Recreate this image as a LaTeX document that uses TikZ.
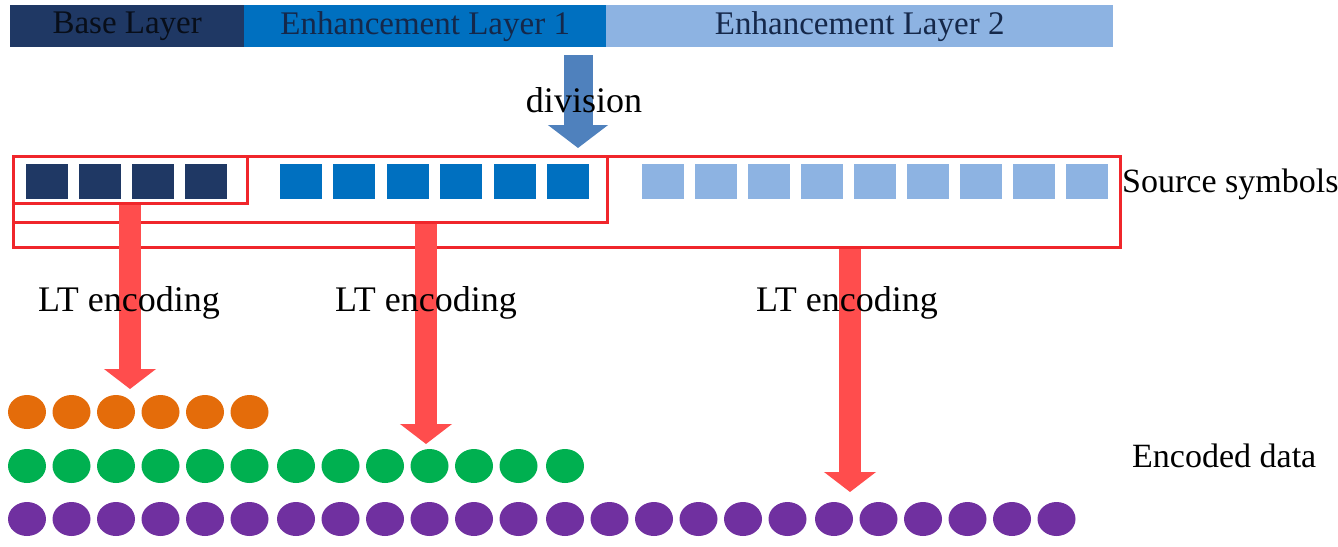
\documentclass[tikz,border=0pt]{standalone}
\usepackage{fontspec}
\setmainfont{Liberation Serif}
\usetikzlibrary{arrows.meta,shapes.geometric}
\definecolor{baseblue}{HTML}{1F3864}
\definecolor{midblue}{HTML}{0070C0}
\definecolor{lightblue}{HTML}{8DB3E2}
\definecolor{inkblue}{HTML}{15284A}
\definecolor{divblue}{HTML}{4F81BD}
\definecolor{boxred}{HTML}{F0262B}
\definecolor{arrowred}{HTML}{FF4D4D}
\definecolor{dotorange}{HTML}{E46C0A}
\definecolor{dotgreen}{HTML}{00B050}
\definecolor{dotpurple}{HTML}{7030A0}

\begin{document}
\begin{tikzpicture}[
		x=1pt, y=-1pt,
		layerbar/.style={minimum height=42pt,inner sep=0pt,anchor=north west,text=inkblue,font=\fontsize{33}{36}\selectfont},
		srcsym/.style={minimum width=42pt,minimum height=35pt,inner sep=0pt},
		packet/.style={ellipse,minimum width=38pt,minimum height=34pt,inner sep=0pt},
		redframe/.style={draw=boxred,line width=2.5pt,anchor=north west,inner sep=0pt},
		ltarrow/.style={arrowred,line width=22pt,-{Triangle[width=51pt,length=20pt]}},
		bigtext/.style={font=\fontsize{36}{40}\selectfont,inner sep=0pt,anchor=base},
		sidetext/.style={font=\fontsize{34}{38}\selectfont,inner sep=0pt,anchor=base west}]
		\useasboundingbox (0,0) rectangle (1338,546);
		% layers
		\node[layerbar,fill=baseblue,minimum width=234pt,text=black!75!baseblue] (base) at (10,5) {Base Layer};
		\node[layerbar,fill=midblue,minimum width=362pt] (el1) at (244,5) {Enhancement Layer 1};
		\node[layerbar,fill=lightblue,minimum width=507pt] (el2) at (606,5) {Enhancement Layer 2};
		\coordinate (divtop) at (578,55);
		\coordinate (divtip) at (578,148);
		\draw[divblue,line width=29pt,-{Triangle[width=59pt,length=23pt]}] (divtop) -- (divtip);
		\node[bigtext] (division) at (584,112) {division};
		% source symbols
		\node[redframe,minimum width=1107pt,minimum height=91pt] (allset) at (12,155) {};
		\node[redframe,minimum width=594pt,minimum height=66pt] (upperset) at (12,155) {};
		\node[redframe,minimum width=234pt,minimum height=47pt] (baseset) at (12,155) {};
		\foreach \i in {0,...,3}
			\node[srcsym,fill=baseblue] (b\i) at ({47+53*\i},181) {};
		\foreach \i in {0,...,5}
			\node[srcsym,fill=midblue] (e\i) at ({301+53.4*\i},181) {};
		\foreach \i in {0,...,8}
			\node[srcsym,fill=lightblue] (f\i) at ({663+53*\i},181) {};
		\node[sidetext] (source) at (1122,192) {Source symbols};
		% encoded data
		\foreach \i in {0,...,5}
			\node[packet,fill=dotorange] (o\i) at ({27+44.5*\i},412) {};
		\foreach \i in {0,...,12}
			\node[packet,fill=dotgreen] (g\i) at ({27+44.5*mod(\i,6)+269*int(\i/6)},466) {};
		\foreach \i in {0,...,23}
			\node[packet,fill=dotpurple] (p\i) at ({27+44.5*mod(\i,6)+269*int(\i/6)},519) {};
		\node[sidetext] (encoded) at (1132,467) {Encoded data};
		\coordinate (tip1) at (130,389);
		\coordinate (tip2) at (426,444);
		\coordinate (tip3) at (850,492);
		\draw[ltarrow] (baseset.south -| tip1) -- (tip1);
		\draw[ltarrow] (upperset.south -| tip2) -- (tip2);
		\draw[ltarrow] (allset.south -| tip3) -- (tip3);
		\node[bigtext] (lt1) at (129,311) {LT encoding};
		\node[bigtext] (lt2) at (426,311) {LT encoding};
		\node[bigtext] (lt3) at (847,311) {LT encoding};
\end{tikzpicture}
\end{document}
